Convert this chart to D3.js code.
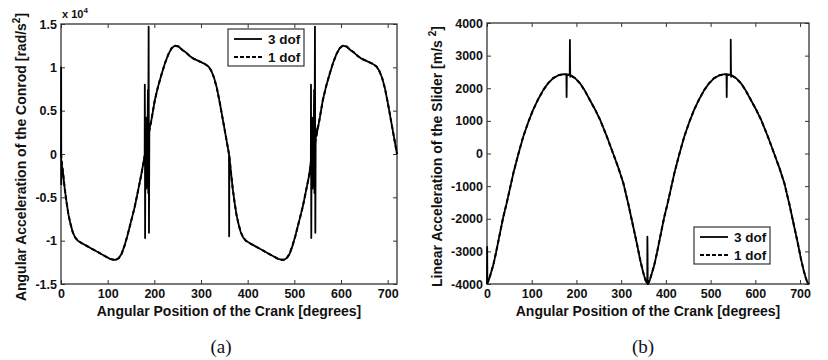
<!DOCTYPE html>
<html>
<head>
<meta charset="utf-8">
<script src="https://cdn.jsdelivr.net/npm/d3@7"></script>
<style>
  body { margin: 0; background: #fff; }
  text { font-family: "Liberation Sans", Arial, sans-serif; font-weight: bold; fill: #111; }
  .tick line { stroke: #333; }
  .caption { font-family: "Liberation Serif", "Times New Roman", serif; font-weight: normal; }
</style>
</head>
<body>
<div id="chart"></div>
<script>
// tick labels
const angleTicks = [0, 100, 200, 300, 400, 500, 600, 700];
const conrodTicks = [-1.5, -1, -0.5, 0, 0.5, 1, 1.5];
const sliderTicks = [-4000, -3000, -2000, -1000, 0, 1000, 2000, 3000, 4000];
const seriesNames = ["3 dof", "1 dof"];

// conrod angular acceleration (x 10^4 rad/s^2), smooth 1 dof curve
const conrodAngle = [0, 4, 8, 12, 16, 20, 25, 30, 36, 45, 55, 65, 75, 85, 95, 105, 112, 118, 124, 130,
  136, 142, 150, 158, 166, 172, 180, 187, 194, 201, 208, 216, 223, 230, 237, 244, 252, 260, 268, 276,
  284, 292, 300, 308, 316, 322, 328, 334, 340, 346, 352, 356, 360,
  364, 368, 372, 376, 380, 385, 390, 396, 405, 415, 425, 435, 445, 455, 465, 472, 478, 484, 490,
  496, 502, 510, 518, 526, 532, 540, 547, 554, 561, 568, 576, 583, 590, 597, 604, 612, 620, 628, 636,
  644, 652, 660, 668, 676, 682, 688, 694, 700, 706, 712, 716, 720];
const conrodOneDof = [0, -0.2, -0.4, -0.56, -0.7, -0.8, -0.9, -0.96, -1.0, -1.03, -1.06, -1.09, -1.12, -1.15, -1.18, -1.21, -1.22, -1.22, -1.2, -1.15,
  -1.06, -0.95, -0.78, -0.61, -0.4, -0.24, 0, 0.2, 0.4, 0.62, 0.78, 0.93, 1.05, 1.15, 1.22, 1.25, 1.24, 1.2, 1.17, 1.13,
  1.1, 1.08, 1.06, 1.04, 1.01, 0.96, 0.88, 0.76, 0.6, 0.42, 0.24, 0.12, 0,
  -0.2, -0.4, -0.56, -0.7, -0.8, -0.9, -0.96, -1.0, -1.03, -1.06, -1.09, -1.12, -1.15, -1.18, -1.21, -1.22, -1.22, -1.2, -1.15,
  -1.06, -0.95, -0.78, -0.61, -0.4, -0.24, 0, 0.2, 0.4, 0.62, 0.78, 0.93, 1.05, 1.15, 1.22, 1.25, 1.24, 1.2, 1.17, 1.13,
  1.1, 1.08, 1.06, 1.04, 1.01, 0.96, 0.88, 0.76, 0.6, 0.42, 0.24, 0.12, 0];
// extra oscillation points of the 3 dof model [angle, value]
const conrodSpikes = [[0.3, 1.0], [0.6, -0.35], [1.0, -0.1],
  [179.3, -0.02], [179.6, 0.8], [180.2, -0.97], [180.8, 0.05], [181.8, 0.4], [182.6, -0.4], [183.6, 0.42],
  [184.6, -0.38], [185.6, 0.36], [186.3, 0.74], [186.9, -0.45], [187.8, 1.47], [188.5, -0.91], [189.3, 0.28],
  [360.3, -0.95], [360.8, -0.02],
  [535.4, -0.08], [535.7, 0.8], [536.3, -0.97], [536.9, 0.0], [537.9, 0.4], [538.7, -0.4], [539.7, 0.42],
  [540.7, -0.38], [541.7, 0.36], [542.4, 0.74], [543.0, -0.45], [544.2, 1.47], [545.0, -0.91], [545.8, 0.3]];

// slider linear acceleration (m/s^2), smooth 1 dof curve
const sliderAngle = [0, 4, 8, 14, 20, 29, 36, 44, 52, 59, 70, 81, 92, 103, 115, 126, 137, 148, 160, 172,
  185, 197, 208, 219, 230, 242, 253, 268, 282, 294, 305, 316, 327, 335, 342, 348, 352, 356, 360,
  364, 368, 374, 380, 389, 396, 404, 412, 419, 430, 441, 452, 463, 475, 486, 497, 508, 520, 532,
  545, 557, 568, 579, 590, 602, 613, 628, 642, 654, 665, 676, 687, 695, 702, 708, 712, 716, 720];
const sliderOneDof = [-4000, -3880, -3700, -3420, -3050, -2440, -1970, -1520, -1030, -600, -20, 515, 950, 1335, 1680, 1950, 2160, 2310, 2400, 2430,
  2410, 2310, 2150, 1920, 1640, 1340, 1030, 520, 0, -450, -915, -1550, -2245, -2750, -3230, -3580, -3780, -3940, -4000,
  -3880, -3700, -3420, -3050, -2440, -1970, -1520, -1030, -600, -20, 515, 950, 1335, 1680, 1950, 2160, 2310, 2400, 2430,
  2410, 2310, 2150, 1920, 1640, 1340, 1030, 520, 0, -450, -915, -1550, -2245, -2750, -3230, -3580, -3780, -3940, -4000];
const sliderSpikes = [[0.4, -2860], [0.8, -3950],
  [177.5, 2425], [178.0, 1730], [178.5, 2420], [185.0, 2410], [185.4, 3480], [185.8, 2700], [186.2, 2350], [186.6, 2405],
  [358.3, -3980], [358.6, -2550], [359.0, -3000], [359.4, -3995],
  [535.5, 2425], [536.0, 1730], [536.5, 2420], [544.6, 2410], [545.0, 3490], [545.4, 2700], [545.8, 2350], [546.2, 2405]];

const width = 828, height = 360;

const svg = d3.select("#chart")
  .append("svg")
    .attr("width", width)
    .attr("height", height);

svg.append("rect").attr("width", width).attr("height", height).attr("fill", "#fff");

function merge(angle, values, spikes) {
  const pts = angle.map((a, i) => [a, values[i]]);
  return pts.concat(spikes).sort((a, b) => a[0] - b[0]);
}

function drawPanel(p) {
  const w = p.right - p.left, h = p.bottom - p.top;
  const g = svg.append("g").attr("transform", `translate(${p.left}, ${p.top})`);

  const x = d3.scaleLinear().domain([0, 720]).range([0, w]);
  const y = d3.scaleLinear().domain(p.yDomain).range([h, 0]);

  // axes with inward ticks on all four sides
  g.append("g").attr("transform", `translate(0, ${h})`)
    .call(d3.axisBottom(x).tickValues(angleTicks).tickSizeInner(-4).tickSizeOuter(0).tickPadding(5))
    .call(a => a.select(".domain").remove())
    .selectAll("text").attr("font-size", 12.5).attr("dy", "0.75em");
  g.append("g")
    .call(d3.axisTop(x).tickValues(angleTicks).tickSizeInner(-4).tickSizeOuter(0).tickFormat(""))
    .call(a => a.select(".domain").remove());
  g.append("g")
    .call(d3.axisLeft(y).tickValues(p.yTicks).tickSizeInner(-4).tickSizeOuter(0).tickPadding(4)
      .tickFormat(d => String(d)))
    .call(a => a.select(".domain").remove())
    .selectAll("text").attr("font-size", 12.5);
  g.append("g").attr("transform", `translate(${w}, 0)`)
    .call(d3.axisRight(y).tickValues(p.yTicks).tickSizeInner(-4).tickSizeOuter(0).tickFormat(""))
    .call(a => a.select(".domain").remove());
  g.selectAll(".tick line").attr("stroke", "#333");

  // frame
  g.append("rect").attr("width", w).attr("height", h)
    .attr("fill", "none").attr("stroke", "#333").attr("stroke-width", 1.3);

  const clipId = "clip-" + p.id;
  g.append("clipPath").attr("id", clipId)
    .append("rect").attr("x", -1).attr("y", -1).attr("width", w + 2).attr("height", h + 2);

  const line = d3.line().x(d => x(d[0])).y(d => y(d[1]));

  // 1 dof (dashed, underneath)
  g.append("path")
    .datum(p.angle.map((a, i) => [a, p.oneDof[i]]))
    .attr("clip-path", `url(#${clipId})`)
    .attr("fill", "none").attr("stroke", "#000").attr("stroke-width", 2)
    .attr("stroke-dasharray", "4,3")
    .attr("d", line);
  // 3 dof (solid)
  g.append("path")
    .datum(merge(p.angle, p.oneDof, p.spikes))
    .attr("clip-path", `url(#${clipId})`)
    .attr("fill", "none").attr("stroke", "#000").attr("stroke-width", 1.8)
    .attr("stroke-linejoin", "round")
    .attr("d", line);

  // legend
  const lg = g.append("g").attr("transform", `translate(${p.legend[0] - p.left}, ${p.legend[1] - p.top})`);
  lg.append("rect").attr("width", 76).attr("height", 37)
    .attr("fill", "#fff").attr("stroke", "#333").attr("stroke-width", 1.2);
  seriesNames.forEach((name, i) => {
    const ly = 10 + i * 18;
    lg.append("line").attr("x1", 6).attr("x2", 34).attr("y1", ly).attr("y2", ly)
      .attr("stroke", "#000").attr("stroke-width", 1.8)
      .attr("stroke-dasharray", i === 1 ? "4,2" : null);
    lg.append("text").attr("x", 40).attr("y", ly).attr("dy", "0.35em")
      .attr("font-size", 13.5).text(name);
  });

  // x axis label
  g.append("text")
    .attr("x", w / 2).attr("y", h + 32)
    .attr("text-anchor", "middle").attr("font-size", 14)
    .text("Angular Position of the Crank [degrees]");

  // y axis label with superscript
  const yl = svg.append("text")
    .attr("transform", `translate(${p.yLabelX}, ${p.top + h / 2 + 3}) rotate(-90)`)
    .attr("text-anchor", "middle").attr("font-size", 14);
  yl.append("tspan").text(p.yLabel);
  yl.append("tspan").attr("dy", -6).attr("font-size", 10).text("2");
  yl.append("tspan").attr("dy", 6).text("]");

  // caption
  svg.append("text").attr("class", "caption")
    .attr("x", p.captionX).attr("y", 353)
    .attr("text-anchor", "middle").attr("font-size", 19)
    .text(p.caption);

  return g;
}

const ga = drawPanel({
  id: "a", left: 61, right: 397, top: 24, bottom: 284,
  yDomain: [-1.5, 1.5], yTicks: conrodTicks,
  angle: conrodAngle, oneDof: conrodOneDof, spikes: conrodSpikes,
  legend: [228, 29], yLabelX: 26,
  yLabel: "Angular Acceleration of the Conrod [rad/s",
  caption: "(a)", captionX: 221
});

// exponent label
const ex = ga.append("text").attr("x", 1).attr("y", -6).attr("font-size", 11);
ex.append("tspan").text("x 10");
ex.append("tspan").attr("dy", -5).attr("font-size", 8).text("4");

drawPanel({
  id: "b", left: 487, right: 809, top: 23, bottom: 284,
  yDomain: [-4000, 4000], yTicks: sliderTicks,
  angle: sliderAngle, oneDof: sliderOneDof, spikes: sliderSpikes,
  legend: [694, 227], yLabelX: 442,
  yLabel: "Linear Acceleration of the Slider [m/s ",
  caption: "(b)", captionX: 643
});
</script>
</body>
</html>
